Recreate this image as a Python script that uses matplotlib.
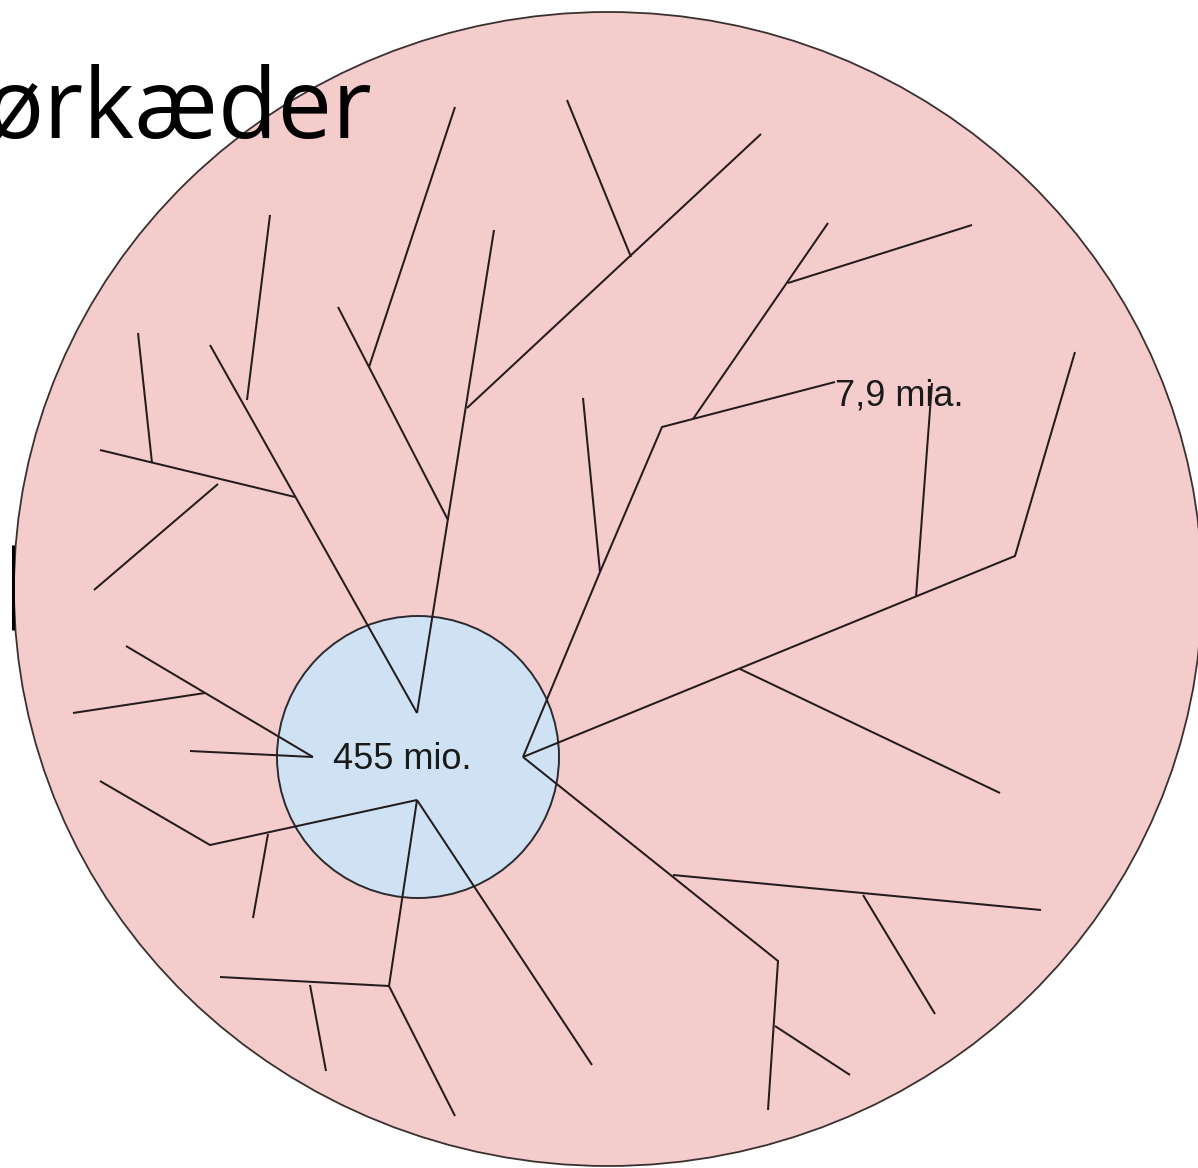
import matplotlib
matplotlib.use("Agg")
import matplotlib.pyplot as plt
from matplotlib.patches import Ellipse, Circle

# Canvas in pixel units (y grows downwards, like the source image).
W, H = 1198, 1168

# Outer population (pink) and inner population (blue).
outer_center = (608, 589)
outer_size = (1188, 1154)
inner_center = (418, 757)
inner_radius = 141

# Branches of the supply-chain tree, each a polyline in pixel coords.
branches = [
    [(210, 345), (417, 713)],
    [(494, 230), (417, 713)],
    [(338, 307), (448, 520)],
    [(455, 107), (369, 367)],
    [(761, 134), (467, 408)],
    [(567, 100), (631, 257)],
    [(270, 215), (247, 400)],
    [(138, 333), (152, 463)],
    [(100, 450), (295, 497)],
    [(218, 484), (94, 590)],
    [(126, 646), (313, 757)],
    [(190, 751), (313, 757)],
    [(73, 713), (205, 693)],
    [(100, 781), (210, 845), (417, 800)],
    [(268, 834), (253, 918)],
    [(417, 800), (389, 986), (455, 1116)],
    [(220, 977), (389, 986)],
    [(310, 985), (326, 1071)],
    [(417, 800), (592, 1065)],
    [(523, 757), (778, 961), (768, 1110)],
    [(673, 875), (1041, 910)],
    [(863, 895), (935, 1014)],
    [(775, 1026), (850, 1075)],
    [(523, 757), (600, 572), (662, 427), (835, 382)],
    [(583, 398), (600, 572)],
    [(828, 223), (693, 419)],
    [(788, 283), (972, 225)],
    [(523, 757), (1015, 556), (1075, 352)],
    [(916, 597), (932, 383)],
    [(740, 669), (1000, 793)],
]

# Labels: (text, left x, baseline y)
labels = [
    ("455 mio.", 333, 769),
    ("7,9 mia.", 835, 405),
]
title_text = "ørkæder"
title_pos = (-14, 138)

# Dark smudge on the left rim of the big circle.
rim_mark = [(13, 545), (13, 630)]

PINK = "#f4cccc"
BLUE = "#cfe2f3"
INK = "#241c1c"

fig = plt.figure(figsize=(W / 100, H / 100), dpi=100)
ax = fig.add_axes([0, 0, 1, 1])
ax.set_xlim(0, W)
ax.set_ylim(H, 0)
ax.set_aspect("equal")
ax.axis("off")

ax.add_patch(Ellipse(outer_center, outer_size[0], outer_size[1],
                     facecolor=PINK, edgecolor="#3a3030", lw=1.3, zorder=1))
ax.add_patch(Circle(inner_center, inner_radius,
                    facecolor=BLUE, edgecolor="#2a2a30", lw=1.4, zorder=2))

xs, ys = zip(*rim_mark)
ax.plot(xs, ys, color="black", lw=2.2, solid_capstyle="butt", zorder=3)

for line in branches:
    xs, ys = zip(*line)
    ax.plot(xs, ys, color=INK, lw=1.45, solid_joinstyle="miter",
            solid_capstyle="butt", zorder=4)

for text, x, y in labels:
    ax.text(x, y, text, ha="left", va="baseline", fontsize=26,
            family=["Liberation Sans", "DejaVu Sans"], color="#1a1a1a",
            zorder=5)

ax.text(title_pos[0], title_pos[1], title_text, ha="left", va="baseline",
        fontsize=70, family=["Open Sans", "DejaVu Sans"], color="black",
        zorder=6)

fig.savefig("out.png", dpi=100, facecolor="white")
